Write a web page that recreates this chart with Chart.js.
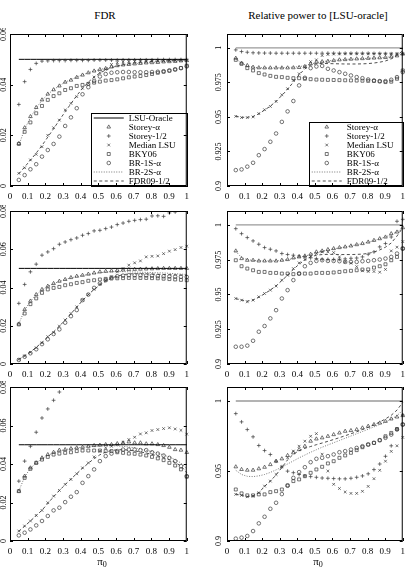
<!DOCTYPE html>
<html>
<head>
<meta charset="utf-8">
<script src="https://cdn.jsdelivr.net/npm/chart.js@4"></script>
<style>
html, body { margin: 0; padding: 0; background: #fff; overflow: hidden; }
body { width: 409px; height: 575px; position: relative; font-family: "Liberation Serif", "Times New Roman", serif; }
canvas { position: absolute; }
.lbl { position: absolute; font-size: 11px; font-weight: normal; line-height: 12px; color: #000; white-space: nowrap; transform: translateX(-50%); }
.lbl sub { font-size: 8px; vertical-align: -2px; }
</style>
</head>
<body>
<div class="lbl" style="left:105px;top:9px">FDR</div>
<div class="lbl" style="left:318px;top:9px">Relative power to [LSU-oracle]</div>
<canvas id="tl"></canvas>
<canvas id="tr"></canvas>
<canvas id="ml"></canvas>
<canvas id="mr"></canvas>
<canvas id="bl"></canvas>
<canvas id="br"></canvas>
<div class="lbl" style="left:102px;top:555px">&pi;<sub>0</sub></div>
<div class="lbl" style="left:318px;top:555px">&pi;<sub>0</sub></div>
<script>
// pi0 values (30 points from 0.05 to 1)
var pi0 = [0.05, 0.0828, 0.1155, 0.1483, 0.181, 0.2138, 0.2466, 0.2793, 0.3121, 0.3448,
	0.3776, 0.4103, 0.4431, 0.4759, 0.5086, 0.5414, 0.5741, 0.6069, 0.6397, 0.6724,
	0.7052, 0.7379, 0.7707, 0.8034, 0.8362, 0.869, 0.9017, 0.9345, 0.9672, 1.0];

var xTicks = [0, 0.1, 0.2, 0.3, 0.4, 0.5, 0.6, 0.7, 0.8, 0.9, 1];
var yTicksFdrTop = [0, 0.02, 0.04, 0.06];
var yTicksFdr = [0, 0.02, 0.04, 0.06, 0.08];
var yTicksPow = [0.9, 0.925, 0.95, 0.975, 1];
var yTicksPowLast = [0.9, 0.95, 1];

// ---- top left: FDR ----
var tl_oracle = [0.05,0.05,0.05,0.05,0.05,0.05,0.05,0.05,0.05,0.05,0.05,0.05,0.05,0.05,0.05,0.05,0.05,0.05,0.05,0.05,0.05,0.05,0.05,0.05,0.05,0.05,0.05,0.05,0.05,0.05];
var tl_storeyA = [0.0168,0.023,0.0274,0.031,0.034,0.0363,0.038,0.0395,0.041,0.0418,0.0429,0.0438,0.0447,0.0454,0.046,0.0464,0.047,0.0475,0.0478,0.048,0.0482,0.0484,0.0486,0.0487,0.0488,0.049,0.0491,0.0492,0.0494,0.0495];
var tl_storeyHalf = [0.0322,0.0412,0.046,0.0484,0.0493,0.0494,0.0495,0.0495,0.0495,0.0496,0.0496,0.0496,0.0496,0.0497,0.0497,0.0497,0.0497,0.0497,0.0498,0.0498,0.0498,0.0498,0.0498,0.0498,0.0499,0.0499,0.0499,0.0499,0.0499,0.0499];
var tl_median = [0.005,0.0072,0.0103,0.0125,0.0155,0.02,0.023,0.026,0.03,0.0326,0.0353,0.0386,0.0405,0.043,0.0447,0.046,0.048,0.0487,0.049,0.0491,0.0492,0.0493,0.0493,0.0494,0.0494,0.0495,0.0495,0.0496,0.0496,0.0497];
var tl_bky = [0.0166,0.0214,0.0251,0.0287,0.0316,0.034,0.0355,0.0366,0.0379,0.0386,0.0395,0.0399,0.0403,0.0408,0.0412,0.0416,0.0418,0.0421,0.0425,0.0429,0.0432,0.0434,0.0438,0.0442,0.0447,0.0451,0.0455,0.046,0.0466,0.0475];
var tl_br1s = [0.0024,0.0043,0.0066,0.0086,0.0116,0.0142,0.0166,0.0195,0.0237,0.0271,0.0307,0.0362,0.039,0.0415,0.0432,0.0442,0.0447,0.0449,0.045,0.045,0.0449,0.0449,0.0449,0.045,0.0451,0.0453,0.0456,0.046,0.0465,0.0472];
var tl_br2s = [0.016,0.0225,0.027,0.0308,0.0338,0.0362,0.038,0.0396,0.041,0.042,0.043,0.0439,0.0447,0.0454,0.046,0.0465,0.047,0.0474,0.0477,0.048,0.0482,0.0484,0.0486,0.0488,0.0489,0.049,0.0492,0.0493,0.0494,0.0496];
var tl_fdr09 = [0.0048,0.0075,0.0102,0.013,0.016,0.0193,0.0226,0.026,0.0293,0.0325,0.0357,0.0385,0.041,0.043,0.0446,0.0458,0.0467,0.0474,0.0479,0.0483,0.0486,0.0488,0.049,0.0492,0.0493,0.0494,0.0495,0.0496,0.0497,0.0498];

// ---- top right: relative power ----
var tr_oracle = [1,1,1,1,1,1,1,1,1,1,1,1,1,1,1,1,1,1,1,1,1,1,1,1,1,1,1,1,1,1];
var tr_storeyA = [0.9925,0.9889,0.9872,0.986,0.9856,0.9855,0.9855,0.9855,0.9855,0.9855,0.9856,0.9858,0.9865,0.9884,0.9896,0.99,0.9903,0.9908,0.9913,0.9915,0.9918,0.992,0.9922,0.9924,0.9926,0.9928,0.993,0.9935,0.9942,0.9956];
var tr_storeyHalf = [0.9985,0.9973,0.9968,0.9964,0.9963,0.9962,0.9962,0.9961,0.9961,0.9961,0.9961,0.9961,0.9961,0.9961,0.9961,0.9961,0.9961,0.9961,0.996,0.996,0.996,0.996,0.996,0.996,0.9959,0.9959,0.9958,0.9957,0.9956,0.9956];
var tr_median = [0.9504,0.9495,0.9495,0.95,0.9524,0.9552,0.9576,0.9612,0.966,0.9704,0.9764,0.9812,0.986,0.99,0.9913,0.9944,0.9952,0.9955,0.9956,0.9957,0.9957,0.9957,0.9957,0.9957,0.9957,0.9957,0.9957,0.9957,0.9957,0.9956];
var tr_bky = [0.9913,0.9884,0.9853,0.9836,0.9817,0.9807,0.9797,0.979,0.9788,0.9783,0.978,0.978,0.9776,0.9773,0.977,0.9769,0.9768,0.9767,0.9766,0.9765,0.9764,0.9763,0.9762,0.9761,0.976,0.9757,0.9752,0.9755,0.9776,0.9836];
var tr_br1s = [0.9115,0.912,0.914,0.9168,0.9223,0.9267,0.932,0.938,0.9464,0.954,0.9615,0.9728,0.9783,0.9853,0.9865,0.9869,0.9848,0.9836,0.9824,0.9812,0.98,0.9788,0.978,0.9771,0.9764,0.9759,0.9759,0.9769,0.9788,0.9824];
var tr_br2s = [0.9922,0.9888,0.987,0.986,0.9856,0.9855,0.9855,0.9856,0.9857,0.9858,0.986,0.9864,0.987,0.9882,0.9893,0.99,0.9905,0.991,0.9913,0.9916,0.9918,0.992,0.9922,0.9924,0.9926,0.9928,0.9931,0.9936,0.9944,0.9955];
var tr_fdr09 = [0.9505,0.9497,0.9497,0.9503,0.9522,0.955,0.9578,0.9613,0.9655,0.97,0.9752,0.9805,0.9848,0.9875,0.9885,0.9887,0.9886,0.9885,0.9884,0.9883,0.9883,0.9883,0.9884,0.9886,0.989,0.9896,0.9905,0.992,0.9945,0.998];

// ---- middle left: FDR ----
var ml_oracle = [0.05,0.05,0.05,0.05,0.05,0.05,0.05,0.05,0.05,0.05,0.05,0.05,0.05,0.05,0.05,0.05,0.05,0.05,0.05,0.05,0.05,0.05,0.05,0.05,0.05,0.05,0.05,0.05,0.05,0.05];
var ml_storeyA = [0.0209,0.0285,0.0329,0.0363,0.039,0.0407,0.0421,0.0433,0.0442,0.0452,0.0459,0.0464,0.047,0.0476,0.0482,0.0485,0.0487,0.049,0.0492,0.0494,0.0495,0.0496,0.0497,0.0498,0.0499,0.05,0.05,0.05,0.05,0.05];
var ml_storeyHalf = [0.0317,0.0416,0.0482,0.0522,0.0569,0.0586,0.0603,0.0626,0.0638,0.065,0.0659,0.0673,0.0682,0.0696,0.0699,0.0708,0.0716,0.0729,0.0737,0.0746,0.0751,0.0755,0.0757,0.0774,0.0775,0.0772,0.079,0.0795,null,null];
var ml_median = [0.0024,0.0042,0.0061,0.0085,0.0111,0.0143,0.0165,0.0198,0.023,0.0264,0.0299,0.0334,0.0363,0.039,0.0417,0.0438,0.0456,0.0482,0.0499,0.0517,0.0529,0.0539,0.056,0.0563,0.0565,0.0577,0.059,0.0598,0.0609,0.0616];
var ml_bky = [0.0207,0.0264,0.0313,0.0343,0.0372,0.039,0.0398,0.0403,0.0412,0.0417,0.0424,0.0428,0.0435,0.0438,0.0442,0.0445,0.0447,0.0448,0.0449,0.045,0.045,0.045,0.045,0.0449,0.0448,0.0446,0.0444,0.0442,0.044,0.0438];
var ml_br1s = [0.0021,0.0038,0.0056,0.0077,0.0104,0.0129,0.0157,0.0181,0.0216,0.025,0.0282,0.0334,0.0363,0.0398,0.0421,0.0438,0.0452,0.0459,0.0462,0.0464,0.0464,0.0464,0.0463,0.0462,0.046,0.0459,0.0458,0.0457,0.0456,0.0455];
var ml_br2s = [0.021,0.0282,0.0328,0.0362,0.0388,0.0406,0.042,0.0432,0.0442,0.045,0.0457,0.0463,0.0468,0.0473,0.0477,0.048,0.0482,0.0483,0.0483,0.0482,0.0481,0.048,0.0479,0.0478,0.0477,0.0476,0.0474,0.0472,0.047,0.0468];
var ml_fdr09 = [0.0024,0.0043,0.0063,0.0087,0.0113,0.0142,0.0168,0.0198,0.023,0.0263,0.0297,0.0332,0.0363,0.039,0.0413,0.0433,0.0449,0.046,0.0467,0.0471,0.0472,0.0472,0.0471,0.047,0.0469,0.0468,0.0467,0.0466,0.0465,0.0464];

// ---- middle right: relative power ----
var mr_oracle = [1,1,1,1,1,1,1,1,1,1,1,1,1,1,1,1,1,1,1,1,1,1,1,1,1,1,1,1,1,1];
var mr_storeyA = [0.9813,0.9758,0.9746,0.9746,0.9741,0.9741,0.9741,0.9741,0.9746,0.9751,0.9763,0.977,0.9777,0.9789,0.9806,0.9813,0.9823,0.983,0.9837,0.9842,0.9849,0.9858,0.9866,0.9877,0.9889,0.9901,0.9913,0.9937,0.9949,0.998];
var mr_storeyHalf = [0.9973,0.9937,0.9909,0.9885,0.9861,0.9837,0.9825,0.9813,0.9794,0.9787,0.9782,0.9777,0.977,0.9763,0.9758,0.9753,0.9752,0.9752,0.9753,0.9756,0.976,0.9762,0.977,0.9789,0.9806,0.9842,0.9866,0.9913,1.0026,1.004];
var mr_median = [0.9471,0.9459,0.9447,0.9459,0.9483,0.9507,0.9531,0.956,0.9603,0.9638,0.9686,0.9727,0.9751,0.9775,0.9794,0.9806,0.9806,0.9801,0.977,0.9734,0.9725,0.97,0.967,0.9665,0.9665,0.966,0.968,0.9813,0.984,0.988];
var mr_bky = [0.9746,0.9703,0.9686,0.9674,0.9662,0.9662,0.9655,0.9655,0.965,0.965,0.9646,0.965,0.965,0.965,0.9655,0.9655,0.9655,0.9658,0.9662,0.9667,0.967,0.9674,0.9679,0.968,0.9693,0.9703,0.9717,0.9746,0.977,0.983];
var mr_br1s = [0.9124,0.9124,0.9132,0.9167,0.9232,0.9273,0.9328,0.9387,0.9471,0.9531,0.9603,0.965,0.9703,0.9727,0.9741,0.9746,0.9741,0.9741,0.9739,0.9734,0.9734,0.9734,0.9739,0.9741,0.9746,0.9751,0.9758,0.977,0.9794,0.983];
var mr_br2s = [0.981,0.9765,0.975,0.9745,0.9743,0.9742,0.9742,0.9743,0.9746,0.975,0.9758,0.9767,0.9776,0.9787,0.98,0.981,0.982,0.9828,0.9835,0.9842,0.985,0.9858,0.9866,0.9876,0.9887,0.99,0.9913,0.993,0.995,0.9975];
var mr_fdr09 = [0.947,0.946,0.9452,0.946,0.948,0.9505,0.9532,0.9562,0.96,0.9638,0.968,0.9718,0.9748,0.977,0.9782,0.9787,0.9788,0.9788,0.9787,0.9787,0.9787,0.9788,0.979,0.9795,0.9805,0.982,0.984,0.987,0.992,0.998];

// ---- bottom left: FDR ----
var bl_oracle = [0.05,0.05,0.05,0.05,0.05,0.05,0.05,0.05,0.05,0.05,0.05,0.05,0.05,0.05,0.05,0.05,0.05,0.05,0.05,0.05,0.05,0.05,0.05,0.05,0.05,0.05,0.05,0.05,0.05,0.05];
var bl_storeyA = [0.0259,0.0337,0.038,0.0406,0.0432,0.0449,0.0461,0.0472,0.0475,0.048,0.0484,0.0487,0.0492,0.0496,0.0498,0.0501,0.0501,0.0506,0.051,0.0515,0.051,0.051,0.0505,0.0505,0.0501,0.0496,0.0487,0.0475,0.0472,0.046];
var bl_storeyHalf = [0.0311,0.0415,0.0492,0.0565,0.0639,0.0686,0.0731,0.0774,null,null,null,null,null,null,null,null,null,null,null,null,null,null,null,null,null,null,null,null,null,null];
var bl_median = [0.0052,0.0078,0.0104,0.0133,0.0159,0.0199,0.0233,0.0263,0.0294,0.032,0.0349,0.038,0.0406,0.0437,0.0467,0.0484,0.0492,0.0501,0.0513,0.0527,0.0539,0.0556,0.0562,0.0574,0.0579,0.0584,0.0588,0.0582,0.0575,0.0555];
var bl_bky = [0.0259,0.0328,0.0375,0.0406,0.0423,0.0437,0.0449,0.0454,0.0458,0.0461,0.0467,0.047,0.047,0.047,0.047,0.0467,0.0467,0.0461,0.0458,0.0454,0.0453,0.0449,0.0444,0.0437,0.0429,0.042,0.0406,0.0392,0.0372,0.0334];
var bl_br1s = [0.0029,0.0043,0.006,0.0081,0.0104,0.013,0.0159,0.0173,0.0202,0.023,0.0254,0.0302,0.0337,0.0372,0.0415,0.0441,0.0454,0.0467,0.0475,0.0475,0.0475,0.0472,0.0472,0.0461,0.0454,0.0444,0.0432,0.0415,0.0389,0.0337];
var bl_br2s = [0.026,0.0333,0.0378,0.0405,0.0428,0.0445,0.0458,0.0468,0.0475,0.048,0.0484,0.0487,0.049,0.0492,0.0494,0.0495,0.0495,0.0494,0.0492,0.0488,0.0484,0.0478,0.0471,0.0464,0.0456,0.0447,0.0436,0.0423,0.0405,0.0375];
var bl_fdr09 = [0.005,0.0077,0.0104,0.0132,0.016,0.0195,0.023,0.0262,0.0293,0.0322,0.035,0.0378,0.0404,0.0428,0.0448,0.0462,0.047,0.0474,0.0474,0.0472,0.0468,0.0463,0.0457,0.045,0.0442,0.0433,0.0422,0.0408,0.039,0.0355];

// ---- bottom right: relative power ----
var br_oracle = [1,1,1,1,1,1,1,1,1,1,1,1,1,1,1,1,1,1,1,1,1,1,1,1,1,1,1,1,1,1];
var br_storeyA = [0.953,0.9511,0.9506,0.9506,0.9516,0.9527,0.9546,0.957,0.9587,0.9611,0.963,0.9653,0.9677,0.9713,0.9729,0.9737,0.9748,0.976,0.9772,0.9784,0.9789,0.9796,0.9808,0.982,0.9832,0.9843,0.9855,0.9872,0.9886,0.9896];
var br_storeyHalf = [0.991,0.9851,0.9796,0.9744,0.9682,0.9646,0.9618,0.957,0.953,0.9499,0.9488,0.9475,0.9465,0.946,0.9455,0.945,0.9448,0.9446,0.9444,0.9444,0.9448,0.9455,0.9465,0.948,0.951,0.955,0.9605,0.968,0.98,0.99];
var br_median = [0.9333,0.9326,0.9316,0.9321,0.9345,0.9392,0.9428,0.9475,0.953,0.9594,0.9642,0.9677,0.9713,0.9748,0.9767,0.962,0.95,0.9405,0.9375,0.935,0.934,0.934,0.9355,0.939,0.9445,0.9505,0.957,0.964,0.968,0.974];
var br_bky = [0.9368,0.934,0.9326,0.9326,0.9333,0.9333,0.9349,0.9356,0.9368,0.9397,0.9428,0.944,0.9463,0.9487,0.9511,0.953,0.9554,0.957,0.9594,0.9611,0.963,0.9649,0.967,0.9689,0.9701,0.972,0.9748,0.9772,0.98,0.9832];
var br_br1s = [0.9017,0.9024,0.9036,0.9071,0.9126,0.9173,0.923,0.9273,0.9335,0.9395,0.9451,0.9492,0.9527,0.9563,0.9587,0.9594,0.9606,0.9618,0.9634,0.9642,0.9653,0.9665,0.9677,0.9689,0.9701,0.972,0.9737,0.976,0.9796,0.9832];
var br_br2s = [0.9505,0.9475,0.9462,0.946,0.9465,0.9475,0.949,0.9508,0.9528,0.955,0.9572,0.9594,0.9614,0.9634,0.9652,0.967,0.9686,0.9702,0.9718,0.9734,0.975,0.9766,0.9782,0.9798,0.9815,0.9832,0.985,0.987,0.9895,0.9935];
var br_fdr09 = [0.9335,0.9325,0.9318,0.9322,0.9345,0.939,0.9428,0.9472,0.9525,0.958,0.962,0.9645,0.9662,0.9675,0.9688,0.97,0.9712,0.9725,0.9738,0.9752,0.9766,0.978,0.9796,0.9812,0.983,0.985,0.9872,0.9898,0.9935,0.999];

var FONT = '"Liberation Serif", "Times New Roman", serif';
var MARK = '#3a3a3a';

function pts(vals) {
	return pi0.map(function (x, i) { return { x: x, y: vals[i] }; });
}

function markSet(label, vals, style, r) {
	return {
		label: label, data: pts(vals), showLine: false,
		pointStyle: style, pointRadius: r, pointBorderWidth: 0.7,
		pointBorderColor: MARK, pointBackgroundColor: 'rgba(0,0,0,0)',
		borderColor: MARK, borderWidth: 0.7
	};
}

function lineSet(label, vals, color, dash, width) {
	return {
		label: label, data: pts(vals), showLine: true, pointRadius: 0,
		borderColor: color, borderDash: dash, borderWidth: width, tension: 0
	};
}

function series(s, powerPanel) {
	var oracle = lineSet('LSU-Oracle', s.oracle, powerPanel ? '#9a9a9a' : '#000', [], powerPanel ? 1.3 : 1);
	if (powerPanel) oracle.inLegend = false;
	return [
		oracle,
		markSet('Storey-\u03b1', s.storeyA, 'triangle', 2.1),
		markSet('Storey-1/2', s.storeyHalf, 'cross', 1.9),
		markSet('Median LSU', s.median, 'crossRot', 1.9),
		markSet('BKY06', s.bky, 'rect', 2.1),
		markSet('BR-1S-\u03b1', s.br1s, 'circle', 1.8),
		lineSet('BR-2S-\u03b1', s.br2s, '#777', [1, 1.5], 1),
		lineSet('FDR09-1/2', s.fdr09, '#222', [3, 2.5], 0.8)
	];
}

var framePlugin = {
	id: 'frame',
	afterDatasetsDraw: function (chart, args, opts) {
		var ctx = chart.ctx, a = chart.chartArea;
		var xs = chart.scales.x, ys = chart.scales.y;
		ctx.save();

		// legend box in the lower right corner
		if (opts.legend) {
			var items = chart.data.datasets.filter(function (d) { return d.inLegend !== false; });
			var rowH = 9, w = opts.legendW, h = items.length * rowH + 1;
			var lx = a.right - w, ly = a.bottom - h;
			ctx.fillStyle = '#fff';
			ctx.fillRect(lx, ly, w, h);
			ctx.strokeStyle = '#000'; ctx.lineWidth = 1; ctx.setLineDash([]);
			ctx.strokeRect(Math.round(lx) + 0.5, Math.round(ly) + 0.5, w, h);
			ctx.font = '9px ' + FONT;
			ctx.textBaseline = 'middle'; ctx.textAlign = 'left';
			items.forEach(function (d, k) {
				var cy = ly + 5 + k * rowH;
				if (d.showLine) {
					ctx.strokeStyle = d.borderColor; ctx.lineWidth = d.borderWidth;
					ctx.setLineDash(d.borderDash || []);
					ctx.beginPath(); ctx.moveTo(lx + 3, cy); ctx.lineTo(lx + 33, cy); ctx.stroke();
					ctx.setLineDash([]);
				} else {
					ctx.strokeStyle = d.pointBorderColor; ctx.fillStyle = 'rgba(0,0,0,0)';
					ctx.lineWidth = d.pointBorderWidth;
					Chart.helpers.drawPoint(ctx, { pointStyle: d.pointStyle, radius: d.pointRadius, borderWidth: d.pointBorderWidth, rotation: 0 }, lx + 18, cy);
				}
				ctx.fillStyle = '#000';
				ctx.fillText(d.label, lx + 38, cy + 0.5);
			});
		}

		// frame
		ctx.strokeStyle = '#000'; ctx.lineWidth = 1; ctx.setLineDash([]);
		ctx.strokeRect(a.left + 0.5, a.top + 0.5, a.right - a.left - 1, a.bottom - a.top - 1);

		// inward ticks on all four sides
		ctx.beginPath();
		xTicks.forEach(function (v) {
			var px = Math.round(xs.getPixelForValue(v)) + 0.5;
			ctx.moveTo(px, a.bottom); ctx.lineTo(px, a.bottom - 3);
			ctx.moveTo(px, a.top); ctx.lineTo(px, a.top + 3);
		});
		opts.yTicks.forEach(function (v) {
			var py = Math.round(ys.getPixelForValue(v)) + 0.5;
			ctx.moveTo(a.left, py); ctx.lineTo(a.left + 3, py);
			ctx.moveTo(a.right, py); ctx.lineTo(a.right - 3, py);
		});
		ctx.stroke();

		// rotated y tick labels
		ctx.fillStyle = '#000';
		ctx.font = '8px ' + FONT;
		ctx.textAlign = 'center'; ctx.textBaseline = 'middle';
		opts.yTicks.forEach(function (v) {
			ctx.save();
			ctx.translate(a.left - opts.yLabelOff, ys.getPixelForValue(v));
			ctx.rotate(-Math.PI / 2);
			ctx.fillText(String(v), 0, 0);
			ctx.restore();
		});
		ctx.restore();
	}
};

function panel(id, box, yMin, yMax, yTicks, datasets, legend, legendW, yLabelOff) {
	var YW = 12, PT = 6, PR = 3, XH = 18;
	var cv = document.getElementById(id);
	cv.width = YW + box.w + PR;
	cv.height = PT + box.h + XH;
	cv.style.left = (box.l - YW) + 'px';
	cv.style.top = (box.t - PT) + 'px';
	cv.style.width = cv.width + 'px';
	cv.style.height = cv.height + 'px';

	return new Chart(cv, {
		type: 'scatter',
		data: { datasets: datasets },
		options: {
			responsive: false,
			animation: false,
			events: [],
			layout: { padding: { top: PT, right: PR, left: 0, bottom: 0 } },
			datasets: { scatter: { clip: { left: 4, right: 4, top: 0, bottom: 0 } } },
			plugins: {
				legend: { display: false },
				tooltip: { enabled: false },
				frame: { legend: legend, legendW: legendW, yTicks: yTicks, yLabelOff: yLabelOff }
			},
			scales: {
				x: {
					type: 'linear', min: 0, max: 1,
					grid: { display: false, drawTicks: false },
					border: { display: false },
					ticks: {
						stepSize: 0.1, autoSkip: false, maxRotation: 0, padding: 5,
						color: '#000', font: { family: FONT, size: 9 },
						callback: function (v) { return String(Math.round(v * 10) / 10); }
					},
					afterFit: function (s) { s.height = XH; }
				},
				y: {
					type: 'linear', min: yMin, max: yMax,
					grid: { display: false, drawTicks: false },
					border: { display: false },
					ticks: { display: false },
					afterFit: function (s) { s.width = YW; }
				}
			}
		},
		plugins: [framePlugin]
	});
}

panel('tl', { l: 10, t: 34, w: 181, h: 152 }, 0, 0.06, yTicksFdrTop,
	series({ oracle: tl_oracle, storeyA: tl_storeyA, storeyHalf: tl_storeyHalf, median: tl_median, bky: tl_bky, br1s: tl_br1s, br2s: tl_br2s, fdr09: tl_fdr09 }, false),
	true, 96, 6);
panel('tr', { l: 227, t: 34, w: 180, h: 152 }, 0.9, 1.01, yTicksPow,
	series({ oracle: tr_oracle, storeyA: tr_storeyA, storeyHalf: tr_storeyHalf, median: tr_median, bky: tr_bky, br1s: tr_br1s, br2s: tr_br2s, fdr09: tr_fdr09 }, true),
	true, 94, 8);
panel('ml', { l: 10, t: 211, w: 181, h: 153 }, 0, 0.08, yTicksFdr,
	series({ oracle: ml_oracle, storeyA: ml_storeyA, storeyHalf: ml_storeyHalf, median: ml_median, bky: ml_bky, br1s: ml_br1s, br2s: ml_br2s, fdr09: ml_fdr09 }, false),
	false, 0, 6);
panel('mr', { l: 227, t: 211, w: 180, h: 153 }, 0.9, 1.01, yTicksPow,
	series({ oracle: mr_oracle, storeyA: mr_storeyA, storeyHalf: mr_storeyHalf, median: mr_median, bky: mr_bky, br1s: mr_br1s, br2s: mr_br2s, fdr09: mr_fdr09 }, true),
	false, 0, 8);
panel('bl', { l: 10, t: 387, w: 181, h: 154 }, 0, 0.08, yTicksFdr,
	series({ oracle: bl_oracle, storeyA: bl_storeyA, storeyHalf: bl_storeyHalf, median: bl_median, bky: bl_bky, br1s: bl_br1s, br2s: bl_br2s, fdr09: bl_fdr09 }, false),
	false, 0, 6);
panel('br', { l: 227, t: 387, w: 180, h: 154 }, 0.9, 1.01, yTicksPowLast,
	series({ oracle: br_oracle, storeyA: br_storeyA, storeyHalf: br_storeyHalf, median: br_median, bky: br_bky, br1s: br_br1s, br2s: br_br2s, fdr09: br_fdr09 }, true),
	false, 0, 8);
</script>
</body>
</html>
